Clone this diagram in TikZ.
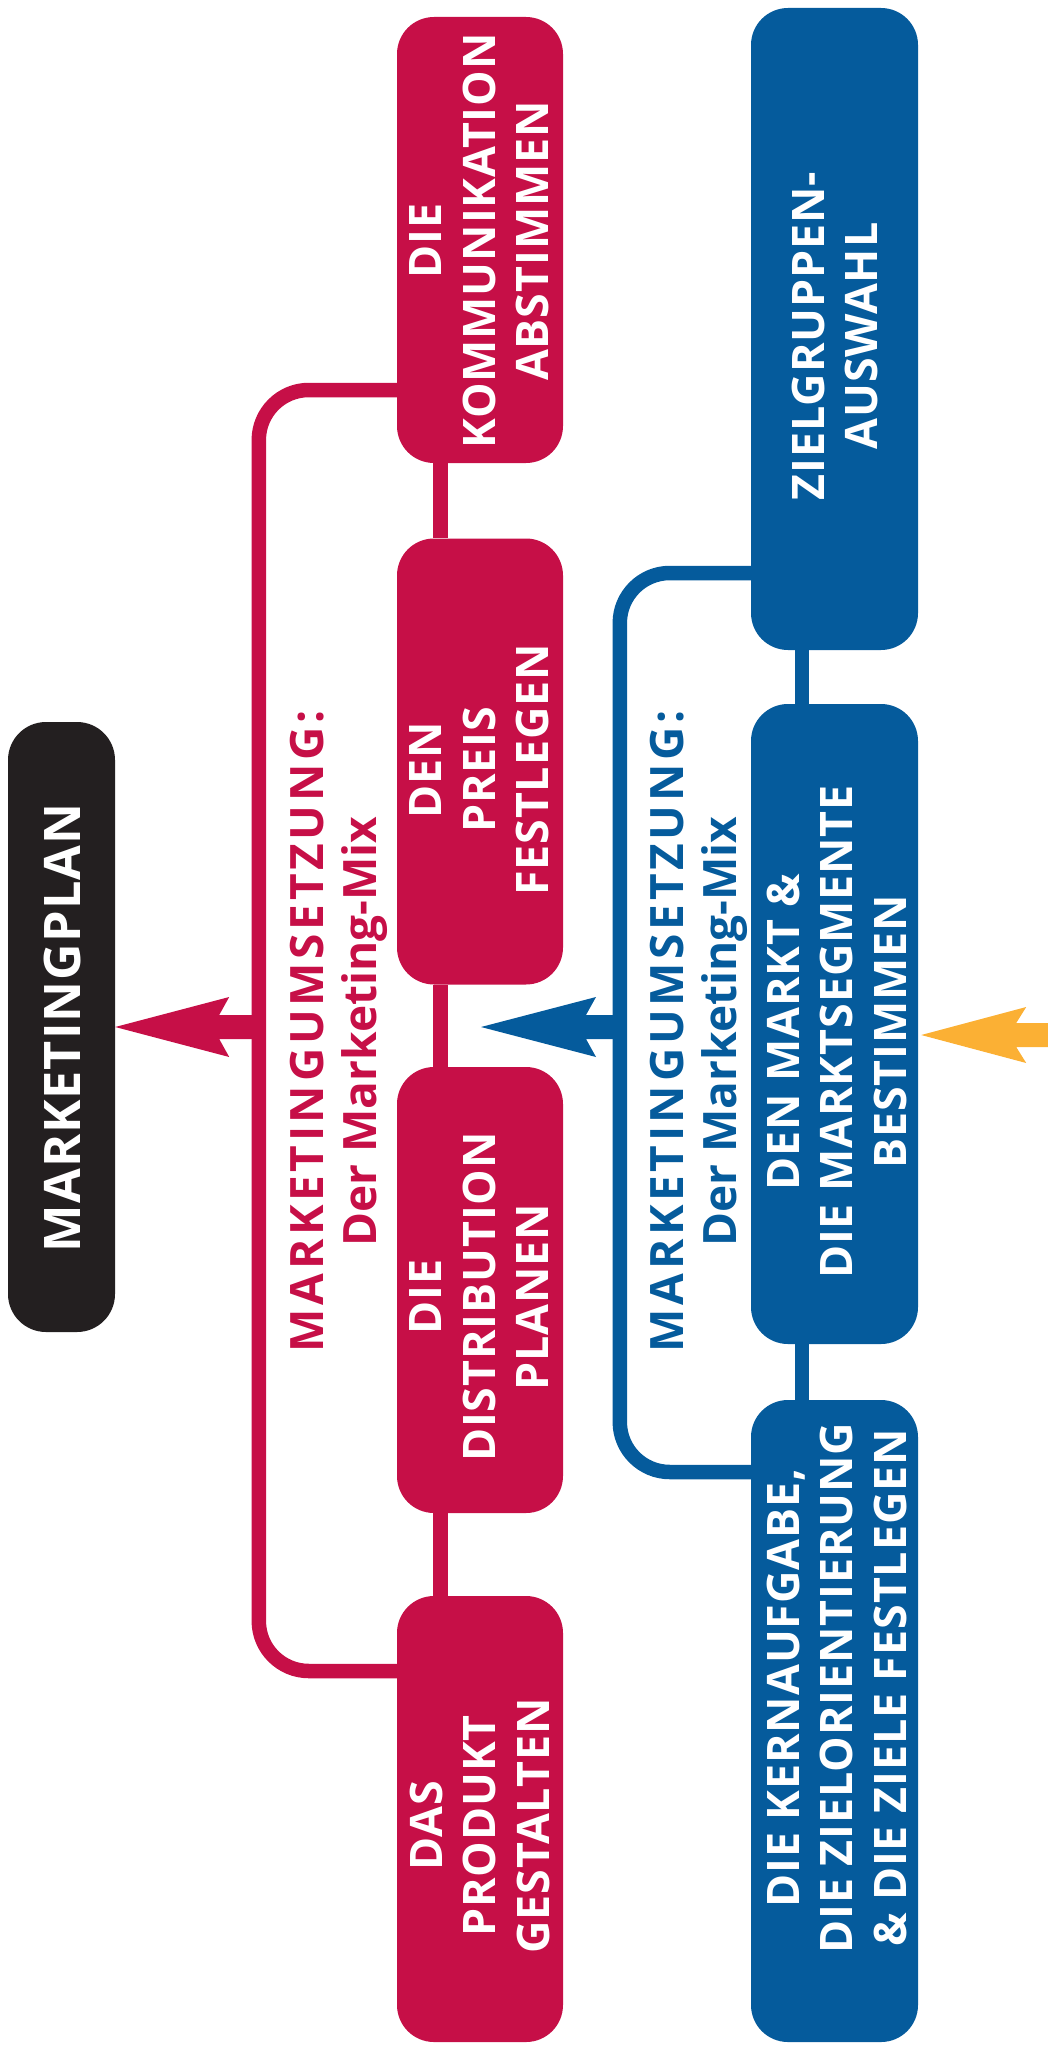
\documentclass[tikz,border=0pt]{standalone}
\usepackage{fontspec}
\setmainfont{Open Sans}
\usetikzlibrary{calc}

\definecolor{mred}{HTML}{C60F47}
\definecolor{mblue}{HTML}{055B9C}
\definecolor{morange}{HTML}{FBB034}
\definecolor{mblack}{HTML}{231F20}

% Filled arrow with notched head, pointing left.
% #1 colour, #2 tip, #3 tail, #4 head length, #5 head half width
\newcommand\notcharrow[5]{%
  \fill[#1] (#2) -- ($(#2)+(#4,-#5)$) -- ($(#2)+(#4-10,-12)$) -- ($(#3)+(0,-12)$)
    -- ($(#3)+(0,12)$) -- ($(#2)+(#4-10,12)$) -- ($(#2)+(#4,#5)$) -- cycle;}

\begin{document}
\begin{tikzpicture}[x=1pt,y=-1pt,
  box/.style={rounded corners=37pt, inner sep=0pt, minimum width=166pt},
  redbox/.style={box, fill=mred, minimum height=446pt},
  bluebox/.style={box, fill=mblue, minimum width=167pt, minimum height=642pt},
  boxtext/.style={rotate=90, anchor=north, inner sep=0pt, align=center, text=white,
    font=\fontsize{44.8pt}{53.5pt}\selectfont\bfseries\addfontfeature{LetterSpace=2}},
  labeltext/.style={rotate=90, anchor=north, inner sep=0pt, align=center,
    font=\fontsize{46pt}{53pt}\selectfont\bfseries},
  redlink/.style={draw=mred, line width=14.5pt},
  bluelink/.style={draw=mblue, line width=14.5pt}]

\useasboundingbox (0,0) rectangle (1048,2055);

% boxes
\node[box, fill=mblack, minimum width=107pt, minimum height=610pt, rounded corners=38pt] (plan) at (61.5,1027) {};
\node[redbox] (komm) at (480,240) {};
\node[redbox] (preis) at (480,761.5) {};
\node[redbox] (distr) at (480,1290) {};
\node[redbox] (prod) at (480,1819) {};
\node[bluebox] (ziel) at (834.5,329) {};
\node[bluebox, minimum height=640pt] (markt) at (834.5,1024) {};
\node[bluebox] (kern) at (834.5,1721) {};

% chains between the boxes
\draw[redlink] ([xshift=-39.5pt]komm.south) -- ([xshift=-39.5pt]preis.north);
\draw[redlink] ([xshift=-39.5pt]preis.south) -- ([xshift=-39.5pt]distr.north);
\draw[redlink] ([xshift=-39.5pt]distr.south) -- ([xshift=-39.5pt]prod.north);
\draw[bluelink] ([xshift=-32.5pt]ziel.south) -- ([xshift=-32.5pt]markt.north);
\draw[bluelink] ([xshift=-32.5pt]markt.south) -- ([xshift=-32.5pt]kern.north);

% brackets
\draw[redlink, rounded corners=50pt] ([yshift=-150pt]komm.west) -- ++(-138,0) |- ([yshift=148pt]prod.west);
\draw[bluelink, rounded corners=50pt] ([yshift=-244pt]ziel.west) -- ++(-131,0) |- ([yshift=249pt]kern.west);

% arrows
\coordinate (redtail) at (259,1027);
\coordinate (bluetip) at (481,1027);
\coordinate (bluetail) at (620,1027);
\coordinate (orangetip) at ([xshift=3pt,yshift=-11pt]markt.east);
\coordinate (orangetail) at (1052,1035);
\notcharrow{mred}{plan.east}{redtail}{114}{30}
\notcharrow{mblue}{bluetip}{bluetail}{115}{30}
\notcharrow{morange}{orangetip}{orangetail}{105}{28}

% texts
\node[rotate=90, anchor=north, inner sep=0pt, text=white,
  font=\fontsize{50.4pt}{60pt}\selectfont\bfseries\addfontfeature{LetterSpace=2}]
  (plan-t) at ($(plan.west)+(36,1)$) {MARKETINGPLAN};
\node[boxtext] (komm-t) at ($(komm.west)+(13,1)$) {DIE\\KOMMUNIKATION\\ABSTIMMEN};
\node[boxtext] (preis-t) at ($(preis.west)+(13,8.5)$) {DEN\\PREIS\\FESTLEGEN};
\node[boxtext] (distr-t) at ($(distr.west)+(13,7)$) {DIE\\DISTRIBUTION\\PLANEN};
\node[boxtext] (prod-t) at ($(prod.west)+(13,7)$) {DAS\\PRODUKT\\GESTALTEN};
\node[boxtext] (ziel-t) at ($(ziel.west)+(41,7)$) {ZIELGRUPPEN-\\AUSWAHL};
\node[boxtext] (markt-t) at ($(markt.west)+(16,8)$) {DEN MARKT \&\\DIE MARKTSEGMENTE\\BESTIMMEN};
\node[boxtext] (kern-t) at ($(kern.west)+(16,-33)$) {DIE KERNAUFGABE,\\DIE ZIELORIENTIERUNG\\\& DIE ZIELE FESTLEGEN};

\node[labeltext, text=mred] (redlabel) at (290,1031.5)
  {{\addfontfeature{LetterSpace=8}MARKETINGUMSETZUNG:}\\Der Marketing-Mix};
\node[labeltext, text=mblue] (bluelabel) at (650,1031.5)
  {{\addfontfeature{LetterSpace=8}MARKETINGUMSETZUNG:}\\Der Marketing-Mix};

\end{tikzpicture}
\end{document}
